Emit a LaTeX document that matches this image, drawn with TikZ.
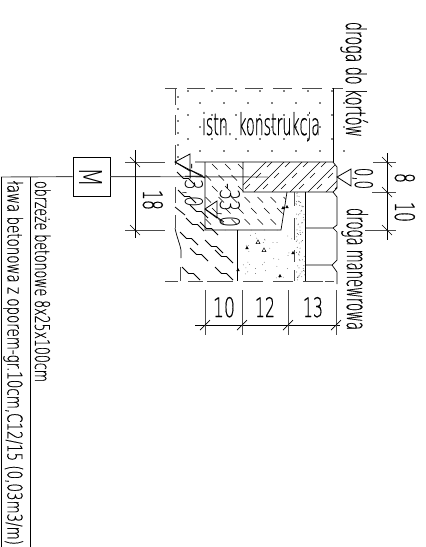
\documentclass[tikz,border=0pt]{standalone}
\usepackage{fontspec}
\usepackage{graphicx}
\setmainfont{DejaVu Sans ExtraLight}[FakeBold=0.6]
\newfontfamily\thinf{DejaVu Sans ExtraLight}
\newcommand{\fit}[3]{\resizebox{#1pt}{#2pt}{#3}}
\newcommand{\wv}[2]{\draw[soil] (#1,#2) --++(6.5,6.5) --++(5,0) --++(6.5,6.5);}
\newcommand{\tri}[2]{\fill[black] (#1,#2) --++(1.7,3) --++(-3.4,0) --cycle;}
\newcommand{\otri}[2]{\draw[line width=.5pt] (#1,#2) --++(2,3.6) --++(-4,0) --cycle;}
\tikzset{
 lbl/.style={inner sep=0pt,outer sep=0pt,anchor=base west,rotate=-90,text=black},
 lblh/.style={inner sep=0pt,outer sep=0pt,anchor=base west,text=black},
 line/.style={line width=.7pt,black},
 dim/.style={line width=.9pt,black!70},
 dimk/.style={line width=.8pt,black},
 dsh/.style={line width=1pt,black!70},
 soil/.style={line width=.8pt,black,line join=round},
 tick/.style={line width=.7pt,black}
}
\begin{document}
\begin{tikzpicture}[x=1pt,y=-1pt]
\useasboundingbox (0,0) rectangle (426,547);
% dots of existing construction
\foreach \j in {0,...,5}{\pgfmathsetmacro{\off}{mod(\j,2)*12}
 \foreach \i in {0,...,6}{\fill[black] ({188+\off+24*\i},{91+12*\j}) circle (.8pt);}}
\foreach \j in {0,...,5}{\fill[black] (178,{97+12*\j}) circle (.8pt);}
\node[lblh] (istn) at (202,135) {\fit{118}{23}{istn. konstrukcja}};
% outline of existing construction
\foreach \a/\b in {165/177,187/205,216/233,245/263,273/292,302/322,332/343}{\draw[dsh] (\a,88)--(\b,88);}
\foreach \a/\b in {88/105,115/135,145/165,187/203,215/228}{\draw[dsh] (175,\a)--(175,\b);}
\draw[line] (175,228) .. controls (177,238) and (180,244) .. (181,250) -- (181,258);
\draw[dsh] (180,267)--(180,281);
\draw[line] (333,88)--(333,162);
% dimension / leader
\node[draw=black,line width=.8pt,minimum width=37pt,minimum height=39pt,inner sep=0pt] (mbox) at (91.5,176.5) {};
\node[lbl] (mtxt) at (80,167) {\fit{20}{23}{\thinf M}};
\coordinate (lend) at (268,177);
\coordinate (lstart) at (1,177);
\draw[dim] (lstart)--(mbox);
\draw[dim] (mbox)--(lend);
% table
\coordinate (t1) at (1,547);
\coordinate (t2) at (30,547);
\coordinate (t3) at (30,177);
\coordinate (t4) at (1,177);
\draw[line] (t4)--(t1);
\draw[line] (t3)--(t2);
\draw[line] (t1)--(t2);
\node[lbl] (t-a) at (35,181) {\fit{201}{15.5}{obrzeże betonowe 8x25x100cm}};
\node[lbl] (t-b) at (7.5,181) {\fit{364}{15.5}{ława betonowa z oporem-gr.10cm,C12/15 (0,03m3/m)}};
% light hatched block
\begin{scope}
\clip (205,162) -- (243,162) -- (243,192) -- (287,192) -- (281,230) -- (205,230) -- cycle;
\foreach \j in {0,...,6}{\pgfmathsetmacro{\off}{mod(\j,2)*6.5}
 \foreach \i in {0,...,7}{\draw[line width=.7pt,black] ({199+\off+13*\i},{164+11*\j}) --++(5.5,5.5);}}
\end{scope}
\draw[line] (205,162)--(205,230)--(281,230)--(287,192);
% dense hatched block
\begin{scope}
\clip (243,162) -- (333,162) -- (337,167) -- (337,188) -- (333,192) -- (243,192) -- cycle;
\foreach \i in {0,...,6}{\draw[line width=.55pt,black] ({236+18*\i},192) --++(34,-34);}
\foreach \i in {0,...,6}{\foreach \k in {0,...,2}{\draw[line width=.55pt,black] ({245+18*\i+11*\k},{192-11*\k-3}) --++(5,-5);}}
\end{scope}
\draw[line] (195,162)--(333,162)--(337,167)--(337,188)--(333,192)--(243,192)--(243,162);
% kerbs
\draw[line] (305,192)--(305,281);
\draw[line] (337,197) -- (337,225) -- (333,228) -- (305,228);
\draw[line] (333,192)--(337,197);
\draw[line] (333,228) -- (337,232) -- (337,260) -- (332,265) -- (305,265);
\draw[line] (332,265) -- (337,272) -- (337,284);
% concrete
\draw[line] (237,230)--(237,281);
\foreach \a/\b in {192/206,218/240,250/262,270/281}{\draw[dsh,line width=.8pt] (294,\a)--(294,\b);}
\foreach \a/\b in {207/233,243/263,273/293,303/323,325/334}{\draw[dsh] (\a,281)--(\b,281);}
\foreach \a/\b in {165/178,188/203}{\draw[dsh] (\a,281)--(\b,281);}
\pgfmathsetseed{7}
\foreach \i in {1,...,70}{\fill[black!70] ({296+rnd*9},{192+rnd*88}) circle (.45pt);}
\foreach \i in {1,...,35}{\fill[black!70] ({241+rnd*52},{232+rnd*48}) circle (.4pt);}
\foreach \x/\y in {247/246,283/206,293/251,238/268,280/274,287/205}{\tri{\x}{\y}}
\foreach \x/\y in {258/240,264/248}{\otri{\x}{\y}}
% soil
\wv{180}{232}\wv{205}{240}\wv{190}{248}\wv{215}{250}\wv{182}{267}\wv{215}{267}\wv{200}{222}
\wv{178}{190}\wv{177}{172}\wv{186}{218}\wv{190}{205}
\draw[soil] (175,207)--(185,215);
% elevation marks
\coordinate (e1) at (175,162);
\draw[line width=.8pt,black] (e1) -- (190,154) -- (190,171) -- cycle;
\draw[line width=.8pt,black] (175,162) -- (205,178);
\draw[line width=.8pt,black] (205,209) -- (217,201) -- (217,218) -- cycle;
\draw[line width=.8pt,black] (205,209) -- (224,222);
\draw[line width=.8pt,black] (337,177) -- (351,169) -- (351,186) -- cycle;
\node[lbl] (e-a) at (185,163) {\fit{44}{18}{\thinf -43,0}};
\node[lbl] (e-b) at (220,183) {\fit{45}{20}{\thinf -33,0}};
\node[lbl] (e-c) at (355,168) {\fit{21}{18}{0,0}};
% text right
\node[lbl] (k) at (346,22) {\fit{115}{22}{droga do kortów}};
\node[lbl] (m) at (347,208) {\fit{122}{21}{droga manewrowa}};
% dim left
\coordinate (a1) at (125,162); \coordinate (a2) at (165,162);
\coordinate (b1) at (125,230); \coordinate (b2) at (165,230);
\coordinate (c1) at (135,150); \coordinate (c2) at (135,238);
\draw[dim] (a1)--(a2); \draw[dim] (b1)--(b2); \draw[dimk] (c1)--(c2);
\draw[tick] (130,157)--(140,167); \draw[tick] (130,225)--(140,235);
\node[lbl] (d18) at (143,190) {\fit{20}{20}{18}};
% dim right
\coordinate (r1) at (387,153); \coordinate (r2) at (387,240);
\coordinate (s1) at (373,162); \coordinate (s2) at (396,162);
\coordinate (s3) at (372,192); \coordinate (s4) at (396,192);
\coordinate (s5) at (365,230); \coordinate (s6) at (396,230);
\draw[dimk] (r1)--(r2); \draw[dim] (s1)--(s2); \draw[dim] (s3)--(s4); \draw[dim] (s5)--(s6);
\draw[tick] (382,157)--(392,167); \draw[tick] (382,187)--(392,197); \draw[tick] (382,225)--(392,235);
\node[lbl] (d8) at (395,173) {\fit{10}{20}{8}};
\node[lbl] (d10) at (395,202) {\fit{20}{20}{10}};
% dim bottom
\coordinate (u1) at (195,325); \coordinate (u2) at (340,325);
\draw[dimk] (u1)--(u2);
\foreach \x in {205,242,288,336}{\draw[dim] (\x,290)--(\x,335); \draw[tick] (\x-5,330)--(\x+5,320);}
\node[lblh] (b10) at (213,317) {\fit{22}{20}{10}};
\node[lblh] (b12) at (255,317) {\fit{20}{20}{12}};
\node[lblh] (b13) at (303,317) {\fit{20}{20}{13}};
\end{tikzpicture}
\end{document}
